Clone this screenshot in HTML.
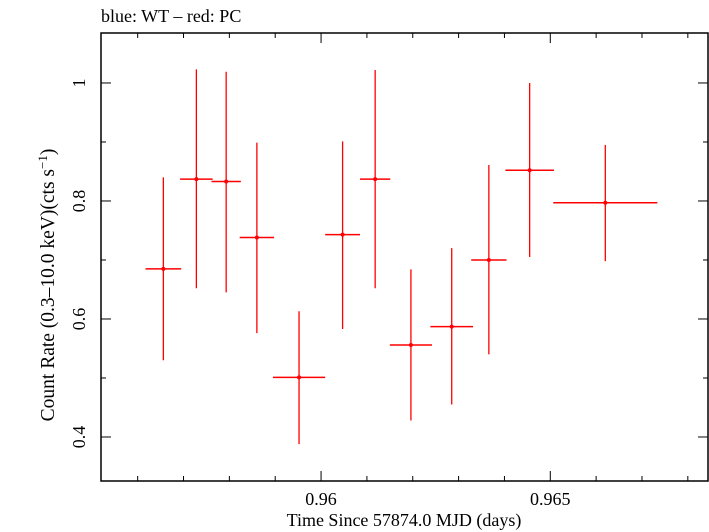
<!DOCTYPE html>
<html><head><meta charset="utf-8"><style>
html,body{margin:0;padding:0;background:#fff;}
svg{display:block;font-family:"Liberation Serif",serif;}
</style></head><body>
<svg id="chart" width="709" height="532" viewBox="0 0 709 532" xmlns="http://www.w3.org/2000/svg">
<text x="101" y="22" font-size="18" fill="#000">blue: WT – red: PC</text>
<rect x="101" y="33" width="607" height="448" fill="none" stroke="#000" stroke-width="1.5"/>
<g id="ticks"></g>
<g id="marks"></g>
<text x="404" y="526" font-size="18" text-anchor="middle" fill="#000">Time Since 57874.0 MJD (days)</text>
<text transform="translate(54,285) rotate(-90)" font-size="19.5" text-anchor="middle" fill="#000">Count Rate (0.3–10.0 keV)(cts s<tspan font-size="13" dy="-7">−1</tspan><tspan dy="7">)</tspan></text>
</svg>
<script>
const times=[0.95656,0.95728,0.95793,0.9586,0.95952,0.96047,0.96118,0.96196,0.96285,0.96366,0.96455,0.9662];
const timeErr=[0.00039,0.000355,0.00032,0.000375,0.00057,0.00038,0.00033,0.00046,0.000465,0.000385,0.00053,0.001135];
const rates=[0.685,0.837,0.833,0.738,0.501,0.743,0.837,0.556,0.587,0.700,0.852,0.797];
const rateLo=[0.530,0.652,0.645,0.576,0.388,0.583,0.652,0.428,0.455,0.540,0.705,0.698];
const rateHi=[0.840,1.023,1.019,0.899,0.613,0.901,1.022,0.684,0.720,0.861,1.000,0.895];
const xTickLabels=["0.96","0.965"];
const yTickLabels=["0.4","0.6","0.8","1"];

const L=101,R=708,T=33,B=481;
const xMin=0.95520,xMax=0.96844,yMin=0.3254,yMax=1.0847;
const X=v=>L+(v-xMin)/(xMax-xMin)*(R-L);
const Y=v=>B-(v-yMin)/(yMax-yMin)*(B-T);
const NS="http://www.w3.org/2000/svg";
function mk(tag,attrs,parent){const e=document.createElementNS(NS,tag);for(const k in attrs)e.setAttribute(k,attrs[k]);parent.appendChild(e);return e;}
const tg=document.getElementById('ticks');
for(let i=0;i<=14;i++){const v=0.955+i*0.001;if(v<xMin||v>xMax)continue;const x=X(v);const major=Math.abs(v-0.96)<1e-9||Math.abs(v-0.965)<1e-9;const len=major?10:5;
const a=mk('line',{x1:x,x2:x,y1:B,y2:B-len,stroke:'#000','stroke-width':1},tg);


const b=mk('line',{x1:x,x2:x,y1:T,y2:T+len,stroke:'#000','stroke-width':1},tg);

}
xTickLabels.forEach(s=>{const t=mk('text',{x:X(parseFloat(s)),y:B+24,'font-size':18,'text-anchor':'middle',fill:'#000'},tg);t.textContent=s;

});
for(let i=3;i<=10;i++){const v=i*0.1;if(v<yMin||v>yMax)continue;const y=Y(v);const major=i%2===0;const len=major?10:5;
const a=mk('line',{x1:L,x2:L+len,y1:y,y2:y,stroke:'#000','stroke-width':1},tg);


const b=mk('line',{x1:R,x2:R-len,y1:y,y2:y,stroke:'#000','stroke-width':1},tg);

}
yTickLabels.forEach(s=>{const y=Y(parseFloat(s));const t=mk('text',{transform:`translate(${L-16},${y}) rotate(-90)`,'font-size':18,'text-anchor':'middle',fill:'#000'},tg);t.textContent=s;

});
const mg=document.getElementById('marks');
times.forEach((t,i)=>{
const g=mk('g',{},mg);


mk('line',{x1:X(t-timeErr[i]),x2:X(t+timeErr[i]),y1:Y(rates[i]),y2:Y(rates[i]),stroke:'#f00','stroke-width':1.5},g);
mk('line',{x1:X(t),x2:X(t),y1:Y(rateLo[i]),y2:Y(rateHi[i]),stroke:'#f00','stroke-width':1.3},g);
mk('circle',{cx:X(t),cy:Y(rates[i]),r:2,fill:'#f00'},g);
});
</script>
</body></html>
